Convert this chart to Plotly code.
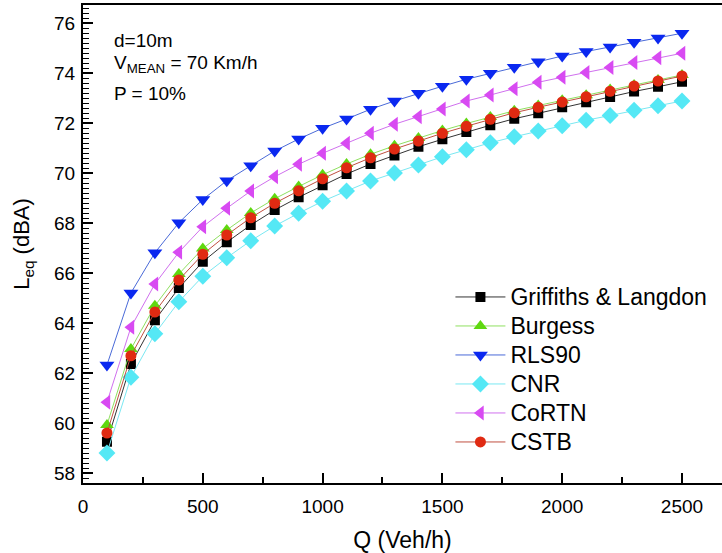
import plotly.graph_objects as go

Q = [100, 200, 300, 400, 500, 600, 700, 800, 900, 1000, 1100, 1200, 1300,
     1400, 1500, 1600, 1700, 1800, 1900, 2000, 2100, 2200, 2300, 2400, 2500]

griffiths = [59.25, 62.36, 64.11, 65.40, 66.45, 67.23, 67.92, 68.52, 69.03, 69.51,
             69.96, 70.36, 70.70, 71.05, 71.35, 71.64, 71.91, 72.17, 72.39, 72.63,
             72.83, 73.04, 73.26, 73.45, 73.65]
burgess = [59.92, 62.96, 64.69, 65.96, 66.98, 67.72, 68.40, 68.97, 69.46, 69.93,
           70.36, 70.75, 71.09, 71.40, 71.70, 71.98, 72.24, 72.49, 72.70, 72.91,
           73.11, 73.34, 73.52, 73.72, 73.92]
rls90 = [62.32, 65.20, 66.81, 68.01, 68.94, 69.69, 70.29, 70.88, 71.36, 71.79,
         72.16, 72.55, 72.88, 73.19, 73.47, 73.75, 73.99, 74.23, 74.45, 74.68,
         74.86, 75.04, 75.23, 75.40, 75.59]
cnr = [58.80, 61.83, 63.57, 64.85, 65.87, 66.61, 67.29, 67.88, 68.39, 68.87,
       69.28, 69.68, 70.00, 70.32, 70.65, 70.93, 71.21, 71.45, 71.68, 71.89,
       72.11, 72.30, 72.51, 72.69, 72.88]
cortn = [60.83, 63.83, 65.56, 66.83, 67.85, 68.59, 69.28, 69.85, 70.35, 70.79,
         71.19, 71.59, 71.95, 72.25, 72.56, 72.88, 73.12, 73.37, 73.63, 73.83,
         74.02, 74.22, 74.42, 74.61, 74.79]
cstb = [59.60, 62.69, 64.44, 65.72, 66.75, 67.52, 68.21, 68.79, 69.29, 69.77,
        70.21, 70.61, 70.96, 71.28, 71.59, 71.87, 72.15, 72.41, 72.63, 72.84,
        73.05, 73.27, 73.48, 73.68, 73.88]

series = [
    ("Griffiths & Langdon", griffiths, "square", "#000000", "#333333", 10),
    ("Burgess", burgess, "triangle-up", "#5fd80f", "#8fe060", 12),
    ("RLS90", rls90, "triangle-down", "#0a28f0", "#4a6ad8", 13),
    ("CNR", cnr, "diamond", "#55e8f5", "#7ae8f2", 13),
    ("CoRTN", cortn, "triangle-left", "#d84af2", "#d070ee", 13),
    ("CSTB", cstb, "circle", "#e02a12", "#c05040", 11),
]

font = "Liberation Sans, Arial, sans-serif"
fig = go.Figure()
for i, (name, vals, sym, mcol, lcol, sz) in enumerate(series):
    fig.add_trace(go.Scatter(
        x=Q, y=vals, mode="lines+markers",
        name=f'<span style="font-size:23px">{name}</span>',
        line=dict(color=lcol, width=1),
        marker=dict(symbol=sym, color=mcol, size=sz, line=dict(width=0)),
    ))

fig.update_layout(
    width=722, height=553,
    margin=dict(l=83, r=0, t=5, b=70),
    paper_bgcolor="white", plot_bgcolor="white",
    font=dict(family=font, color="black"),
    showlegend=True,
    legend=dict(
        x=0.575, y=0.43, xanchor="left", yanchor="top",
        font=dict(size=20, family=font),
        itemwidth=50,
        tracegroupgap=0, bgcolor="rgba(0,0,0,0)",
    ),
    xaxis=dict(
        range=[0, 2667], showgrid=False, zeroline=False,
        showline=True, linecolor="black", linewidth=2, mirror=True,
        ticks="inside", ticklen=10, tickwidth=1.5, tickcolor="black",
        tickvals=[0, 500, 1000, 1500, 2000, 2500],
        ticktext=["0", "500", "1000", "1500", "2000", "2500"],
        tickfont=dict(size=19, family=font),
        ticklabelstandoff=5,
        minor=dict(tickvals=[250, 750, 1250, 1750, 2250], ticks="inside",
                   ticklen=6, tickwidth=1.5, tickcolor="black"),
        title=dict(text="Q (Veh/h)", font=dict(size=23, family=font), standoff=18),
    ),
    yaxis=dict(
        range=[57.6, 76.72], showgrid=False, zeroline=False,
        showline=True, linecolor="black", linewidth=2, mirror=False,
        ticks="inside", ticklen=10, tickwidth=1.5, tickcolor="black",
        tickvals=[58, 60, 62, 64, 66, 68, 70, 72, 74, 76],
        ticktext=["58", "60", "62", "64", "66", "68", "70", "72", "74", "76"],
        tickfont=dict(size=19, family=font),
        ticklabelstandoff=2,
        minor=dict(dtick=0.2, tick0=58, ticks="inside", ticklen=6,
                   tickwidth=1, tickcolor="black"),
        title=dict(text="L<sub>eq</sub> (dBA)", font=dict(size=22, family=font), standoff=18),
    ),
)

notes = [("d=10m", 40), ("V<sub>MEAN</sub> = 70 Km/h", 64), ("P = 10%", 93)]
for txt, ypx in notes:
    fig.add_annotation(
        xref="paper", yref="paper", x=0.045, y=1 - (ypx - 5) / 478,
        xanchor="left", yanchor="middle", align="left", showarrow=False,
        text=txt, font=dict(size=19, family=font, color="black"),
    )

fig.write_html("out.html")
